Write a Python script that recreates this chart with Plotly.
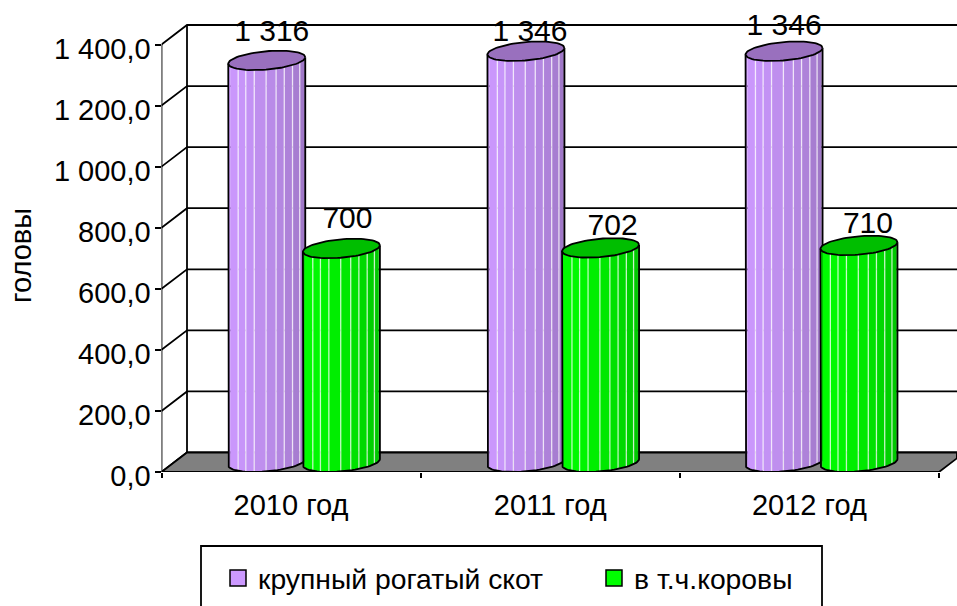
import math
import numpy as np
import plotly.graph_objects as go

# ---- data ----
categories = ["2010 год", "2011 год", "2012 год"]
cattle = [1316, 1346, 1346]
cows = [700, 702, 710]
series_names = ["крупный рогатый скот", "в т.ч.коровы"]
y_ticks = [0, 200, 400, 600, 800, 1000, 1200, 1400]
y_ticktext = ["0,0", "200,0", "400,0", "600,0", "800,0", "1 000,0", "1 200,0", "1 400,0"]
y_title = "головы"

# ---- geometry / style ----
FONT = "Liberation Sans"
FS = 29
W, H = 957, 606
L, B = 161.5, 134                   # plot offsets, px
PX_X = 3 / (939 - L)                # data units per px
PX_Y = 1400 / (472 - 44.5)
X_MAX = (W - L) * PX_X
Y_MAX = (H - B) * PX_Y
DX, DY = 25.5 * PX_X, 19.5 * PX_Y   # wall depth
GAP_C = [0.357, 0.357, 0.353]
GAP_G = [0.645, 0.645, 0.642]
RAD = 38.5 * PX_X
D_Y = 9.75 * PX_Y
PHI = math.atan(12.75 / 36.3)
EDGES_DEG = [-90, -72, -48, -33, -19, -1, 14, 27, 42, 59, 76, 90]
EDGES = [math.sin(math.radians(d)) for d in EDGES_DEG]
LABEL_SHIFT_C = [(5, 27), (4, 18), (0, 24)]
LABEL_SHIFT_G = [(6, 28), (12, 20), (9, 19.5)]
LW = 1.8


def lower(s):
    """height of lower rim above ellipse centre at x fraction s"""
    return D_Y * np.sin(PHI - np.arccos(np.clip(s, -1, 1)))


def shade(rgb, f):
    return "rgb(%d,%d,%d)" % tuple(int(c * f) for c in rgb)


fig = go.Figure()


def line(xs, ys, color="black", width=LW):
    fig.add_trace(go.Scatter(x=xs, y=ys, mode="lines", cliponaxis=False, showlegend=False,
                             hoverinfo="skip", line=dict(color=color, width=width)))


# walls
xs, ys = [], []
for t in y_ticks:
    xs += [0, DX, X_MAX, None]
    ys += [t, t + DY, t + DY, None]
line(xs, ys)
line([DX, DX], [DY, 1400 + DY])
line([0, 0], [0, 1400])
# floor
fig.add_trace(go.Scatter(x=[0, 3, 3 + DX * 0.7, X_MAX, DX, 0], y=[0, 0, DY * 0.7, DY, DY, 0], mode="lines",
                         fill="toself", fillcolor="#808080", cliponaxis=False, showlegend=False,
                         hoverinfo="skip", line=dict(color="black", width=LW)))


def cylinder(x0, value, rgb, top_rgb):
    cx = x0 + DX / 2
    base = DY / 2
    top = value + DY / 2
    n = len(EDGES) - 1
    for i in range(n):
        s = np.linspace(EDGES[i], EDGES[i + 1], 8)
        px = cx + RAD * s
        fig.add_trace(go.Scatter(
            x=np.r_[px, px[::-1]], y=np.r_[top + lower(s), (base + lower(s))[::-1]],
            mode="lines", fill="toself", fillcolor=shade(rgb, 1 - 0.25 * (i / (n - 1)) ** 1.5),
            line=dict(width=0), cliponaxis=False, showlegend=False, hoverinfo="skip"))
    sx, sy = [], []
    for e in EDGES[2:-2]:
        sx += [cx + RAD * e, cx + RAD * e, None]
        sy += [top + lower(e), base + lower(e), None]
    line(sx, sy, "rgba(255,255,255,0.72)", 1.3)
    s = np.cos(np.linspace(math.pi, 0, 40))
    line(np.r_[cx - RAD, cx + RAD * s, cx + RAD],
         np.r_[top + lower(-1.0), base + lower(s), top + lower(1.0)], "black", LW)
    u = np.linspace(0, 2 * math.pi, 80)
    fig.add_trace(go.Scatter(
        x=cx + RAD * np.cos(u), y=top + D_Y * np.sin(u + PHI), mode="lines", fill="toself",
        fillcolor=shade(top_rgb, 1), line=dict(color="black", width=LW),
        cliponaxis=False, showlegend=False, hoverinfo="skip"))


PURPLE, PURPLE_TOP = (204, 153, 255), (153, 112, 190)
GREEN, GREEN_TOP = (0, 255, 0), (0, 190, 0)
for k in range(3):
    cylinder(k + GAP_C[k], cattle[k], PURPLE, PURPLE_TOP)
    cylinder(k + GAP_G[k], cows[k], GREEN, GREEN_TOP)


def fmt(v):
    return f"{v:,}".replace(",", " ")


lx, ly, lt = [], [], []
for k in range(3):
    for v, g, sh in ((cattle[k], GAP_C[k], LABEL_SHIFT_C[k]), (cows[k], GAP_G[k], LABEL_SHIFT_G[k])):
        lx.append(k + g + DX / 2 + sh[0] * PX_X)
        ly.append(v + DY / 2 + sh[1] * PX_Y)
        lt.append(fmt(v))
fig.add_trace(go.Scatter(x=lx, y=ly, text=lt, mode="text", textposition="middle center",
                         textfont=dict(family=FONT, size=30, color="black"),
                         cliponaxis=False, showlegend=False, hoverinfo="skip"))

# legend entries
for name, col in zip(series_names, ("#CC99FF", "#00FF00")):
    fig.add_trace(go.Scatter(x=[None], y=[None], mode="markers", name=name,
                             marker=dict(symbol="square", size=17, color=col,
                                         line=dict(color="black", width=1.5))))

fig.update_layout(
    width=W, height=H, margin=dict(l=0, r=0, t=0, b=0, pad=0, autoexpand=False),
    paper_bgcolor="white", plot_bgcolor="white",
    font=dict(family=FONT, size=FS, color="black"),
    xaxis=dict(domain=[L / W, 1], range=[0, X_MAX], tickmode="array", tickvals=[0.5, 1.5, 2.5],
               ticktext=categories, ticks="", showgrid=False, zeroline=False, showline=False,
               ticklabelstandoff=13,
               minor=dict(tickmode="array", tickvals=[0, 1, 2, 3], ticks="outside", ticklen=5,
                          tickwidth=1.5, tickcolor="black", showgrid=False)),
    yaxis=dict(domain=[B / H, 1], range=[0, Y_MAX], tickmode="array", tickvals=y_ticks,
               ticktext=y_ticktext, ticks="outside", ticklen=6, tickwidth=1.5, tickcolor="black",
               showgrid=False, zeroline=False, showline=False, ticklabelstandoff=-2,
               ticklabelshift=4),
    legend=dict(orientation="h", x=218 / W, xanchor="left", y=1 - 553 / H, yanchor="top",
                bgcolor="rgba(0,0,0,0)", font=dict(family=FONT, size=28.3), itemwidth=30,
                tracegroupgap=0, entrywidth=331, entrywidthmode="pixels"),
    annotations=[dict(text=y_title, xref="paper", yref="paper", x=21 / W, y=1 - 256 / H,
                      textangle=-90, showarrow=False, xanchor="center", yanchor="middle",
                      font=dict(family=FONT, size=FS))],
    shapes=[dict(type="rect", xref="paper", yref="paper",
                 x0=201 / W, x1=822 / W, y0=1 - 620 / H, y1=1 - 546 / H,
                 line=dict(color="black", width=LW), fillcolor="rgba(0,0,0,0)")],
)
fig.write_html("out.html", config={"displayModeBar": False},
               post_script="document.body.style.margin='0';document.body.style.overflow='hidden';")
